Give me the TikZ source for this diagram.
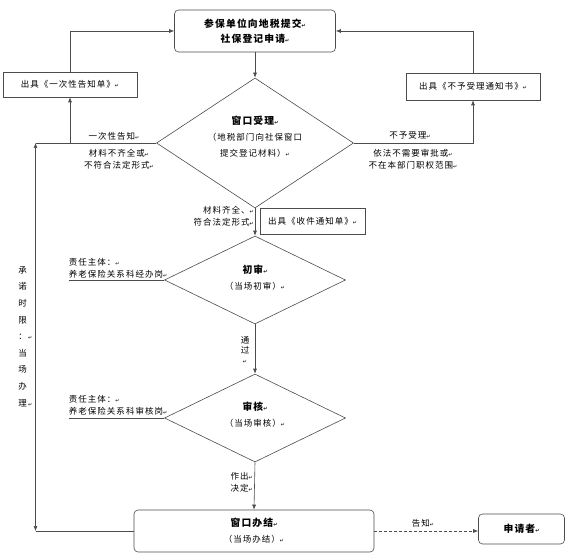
\documentclass[tikz,border=0pt]{standalone}
\usepackage{fontspec}
\setmainfont{Noto Sans CJK SC}[LetterSpace=12]
\newfontfamily\symfont{DejaVu Sans}
\usetikzlibrary{shapes.geometric,arrows.meta}
\newcommand{\pmark}{{\symfont\fontsize{5}{5}\selectfont ↵}}
\newcommand{\heading}[1]{{\bfseries\fontsize{9.8}{12}\selectfont #1}}
\begin{document}
\begin{tikzpicture}[x=1pt, y=-1pt,
    box/.style={draw=black!70, line width=0.6pt, align=center, inner sep=0pt},
    rbox/.style={box, rounded corners=4pt},
    decide/.style={diamond, draw=black!70, line width=0.6pt, inner sep=0pt},
    small/.style={font=\fontsize{8.5}{12}\selectfont, align=center, inner sep=0pt},
    dtext/.style={font=\fontsize{8.5}{16}\selectfont, align=center, inner sep=0pt},
    big/.style={font=\bfseries\fontsize{9.8}{15}\selectfont, align=center, inner sep=0pt},
    line/.style={draw=black!70, line width=0.6pt},
    arr/.style={line, -{Latex[length=5pt, width=4pt]}}]
    \useasboundingbox (0,0) rectangle (570,556);
    % boxes and decisions
    \node[rbox, big, minimum width=161pt, minimum height=42pt] (apply) at (255,31) {参保单位向地税提交\pmark\\社保登记申请\pmark};
    \node[box, small, minimum width=134pt, minimum height=25pt] (once) at (70,84.5) {出具《一次性告知单》\pmark};
    \node[box, small, minimum width=134pt, minimum height=27pt] (refuse) at (473,86.5) {出具《不予受理通知书》\pmark};
    \node[decide, minimum width=197pt, minimum height=130pt] (accept) at (255,143) {};
    \node[dtext] (acceptText) at (255,137) {\heading{窗口受理\pmark}\\（地税部门向社保窗口\\提交登记材料）\pmark};
    \node[box, small, minimum width=105pt, minimum height=26pt] (notice) at (312.6,221) {出具《收件通知单》\pmark};
    \node[decide, minimum width=181pt, minimum height=88pt] (check) at (255,280) {};
    \node[dtext] (checkText) at (255,278) {\heading{初审\pmark}\\（当场初审）\pmark};
    \node[decide, minimum width=181pt, minimum height=88pt] (review) at (255,418) {};
    \node[dtext] (reviewText) at (255,414.5) {\heading{审核\pmark}\\（当场审核）\pmark};
    \node[rbox, dtext, minimum width=240pt, minimum height=42pt] (finish) at (254,531) {\heading{窗口办结\pmark}\\（当场办结）\pmark};
    \node[rbox, big, minimum width=86pt, minimum height=30pt] (applicant) at (521.5,529) {申请者\pmark};
    % labels
    \node[small] (tellOnce) at (114,136) {一次性告知\pmark};
    \node[small] (incomplete) at (119,159) {材料不齐全或\pmark\\不符合法定形式\pmark};
    \node[small] (tellNo) at (410,135) {不予受理\pmark};
    \node[small] (outScope) at (413,159) {依法不需要审批或\pmark\\不在本部门职权范围\pmark};
    \node[small, align=right, anchor=east] (complete) at (254,216) {材料齐全、\pmark\\符合法定形式\pmark};
    \node[small, align=left, anchor=west] (dutyTextA) at (68.7,268) {责任主体：\pmark\\养老保险关系科经办岗\pmark};
    \node[small, font=\fontsize{8.5}{10}\selectfont] (pass) at (245,350) {通\\过\\\pmark};
    \node[small, align=left, anchor=west] (dutyTextB) at (68.7,405) {责任主体：\pmark\\养老保险关系科审核岗\pmark};
    \node[small, align=right, anchor=east] (decision) at (253,482) {作出\pmark\\决定\pmark};
    \node[small] (tellApp) at (423,523) {告知\pmark};
    \node[small, font=\fontsize{8.5}{16.6}\selectfont] (promise) at (22.5,336.5) {承\\诺\\时\\限\\：\rlap{\,\pmark}\\当\\场\\办\\理\rlap{\,\pmark}};
    \coordinate (cornerL) at (35.5,143);
    \coordinate (cornerB) at (35.5,531);
    \coordinate (dutyA) at (68.7,280);
    \coordinate (dutyB) at (68.7,418);
    % connectors
    \draw[arr] (apply.south) -- (accept.north);
    \draw[arr] (once.north) |- (apply.west);
    \draw[arr] (refuse.north) |- (apply.east);
    \draw[line] (accept.west) -- (cornerL);
    \draw[arr] (once.south |- accept.west) -- (once.south);
    \draw[arr] (accept.east) -| (refuse.south);
    \draw[line, {Latex[length=5pt, width=4pt]}-{Latex[length=5pt, width=4pt]}] (cornerL) -- (cornerB);
    \draw[line] (cornerB) -- (finish.west);
    \draw[arr] (accept.south) -- (check.north);
    \draw[line] (dutyA) -- (check.west);
    \draw[arr] (check.south) -- (review.north);
    \draw[line] (dutyB) -- (review.west);
    \draw[arr] (review.south) -- (finish.north);
    \draw[arr, dash pattern=on 3pt off 2pt] (finish.east) -- (finish.east -| applicant.west);
\end{tikzpicture}
\end{document}
